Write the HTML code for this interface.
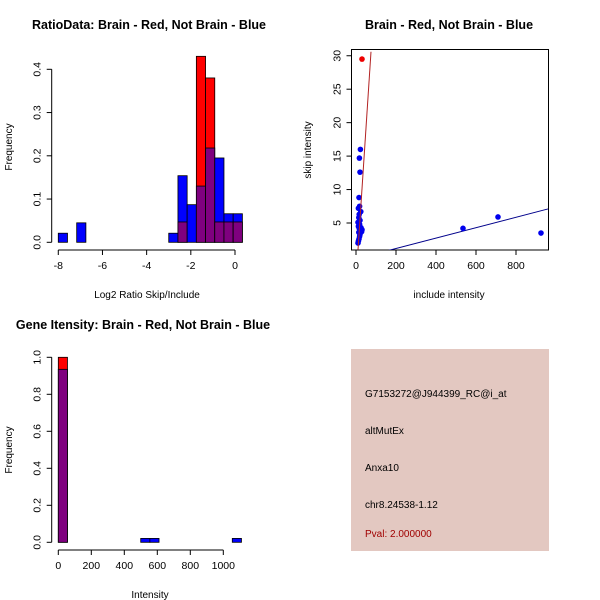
<!DOCTYPE html>
<html><head><meta charset="utf-8"><style>
body{margin:0;background:#fff}
svg{display:block;font-family:"Liberation Sans",sans-serif}
</style></head><body>
<svg id="s" width="600" height="600" xmlns="http://www.w3.org/2000/svg">
<rect width="600" height="600" fill="#fff"/>
<text x="149" y="29" font-size="12.5" font-weight="bold" text-anchor="middle">RatioData: Brain - Red, Not Brain - Blue</text>
<text x="449" y="29" font-size="12.5" font-weight="bold" text-anchor="middle">Brain - Red, Not Brain - Blue</text>
<text x="143" y="329" font-size="12.5" font-weight="bold" text-anchor="middle">Gene Itensity: Brain - Red, Not Brain - Blue</text>
<text x="147" y="298" font-size="10" text-anchor="middle">Log2 Ratio Skip/Include</text>
<text x="12" y="147" font-size="10" text-anchor="middle" transform="rotate(-90 12 147)">Frequency</text>
<text x="449" y="298" font-size="10" text-anchor="middle">include intensity</text>
<text x="311" y="150" font-size="10" text-anchor="middle" transform="rotate(-90 311 150)">skip intensity</text>
<text x="150" y="598" font-size="10" text-anchor="middle">Intensity</text>
<text x="12" y="450" font-size="10" text-anchor="middle" transform="rotate(-90 12 450)">Frequency</text>
<g>
<rect x="351" y="349" width="198" height="202" fill="#e3c8c1"/>
<text x="365" y="397" font-size="10">G7153272@J944399_RC@i_at</text>
<text x="365" y="434" font-size="10">altMutEx</text>
<text x="365" y="471" font-size="10">Anxa10</text>
<text x="365" y="508" font-size="10">chr8.24538-1.12</text>
<text x="365" y="537" font-size="10" fill="#a00000">Pval: 2.000000</text>
</g>
</svg>
<script>
// Ratio histogram data
const ratioStart = -8.0;
const ratioBinW = 0.4167;
const ratioBlue = [0.021,0,0.045,0,0,0,0,0,0,0,0,0,0.021,0.154,0.087,0.13,0.218,0.195,0.066,0.066];
const ratioRed  = [0,0,0,0,0,0,0,0,0,0,0,0,0,0.047,0,0.43,0.38,0.047,0.047,0.047];
const ratioXTicks = [-8,-6,-4,-2,0];
const ratioYTicks = [0,0.1,0.2,0.3,0.4];
// Intensity histogram data
const intBinW = 55.5;
const intBlue = [0.935,0,0,0,0,0,0,0,0,0.021,0.021,0,0,0,0,0,0,0,0,0.021];
const intRed  = [1.0,0,0,0,0,0,0,0,0,0,0,0,0,0,0,0,0,0,0,0];
const intXTicks = [0,200,400,600,800,1000];
const intYTicks = [0,0.2,0.4,0.6,0.8,1.0];
// Scatter data
const blueX = [10,12,15,18,20,14,22,16,12,25,18,10,20,28,14,16,24,12,30,18,15,20,17,22,535,710,925];
const blueY = [2.0,2.3,2.6,3.0,3.3,3.6,3.9,4.2,4.5,4.3,4.8,5.1,5.4,3.7,5.8,6.3,6.7,7.2,4.0,7.5,8.8,12.6,14.7,16.0,4.2,5.9,3.5];
const redX = [30];
const redY = [29.5];
const blueLine = [[150,0.8],[960,7.1]];
const redLine = [[10,1.0],[75,30.6]];
const scXTicks = [0,200,400,600,800];
const scYTicks = [5,10,15,20,25,30];

const S = document.getElementById('s');
const NS = 'http://www.w3.org/2000/svg';
function mk(tag, at, parent){const e=document.createElementNS(NS,tag);for(const k in at)e.setAttribute(k,at[k]);(parent||S).appendChild(e);return e;}

function hist(xs, ys, x0, binW, blue, red, xt, yt, yAxisX, xAxisY, name){
  const g = mk('g',{});
  
  
  for(let i=0;i<blue.length;i++){
    const a=x0+i*binW, b=a+binW, bl=blue[i], rd=red[i];
    const hi=Math.max(bl,rd), lo=Math.min(bl,rd);
    if(hi>0){
      const r=mk('rect',{x:xs(a),y:ys(hi),width:xs(b)-xs(a),height:ys(0)-ys(hi),fill:bl>=rd?'#0000ff':'#ff0000',stroke:'#000','stroke-width':0.8},g);
      
      
    }
    if(lo>0){
      const r=mk('rect',{x:xs(a),y:ys(lo),width:xs(b)-xs(a),height:ys(0)-ys(lo),fill:'#7f007f',stroke:'#000','stroke-width':0.8},g);
      
      
    }
  }
  axes(xs,ys,xt,yt,yAxisX,xAxisY,name);
}
function axes(xs,ys,xt,yt,yAxisX,xAxisY,name){
  const ax=mk('g',{stroke:'#000','stroke-width':1,fill:'none'});
  
  
  mk('line',{x1:xs(xt[0]),x2:xs(xt[xt.length-1]),y1:xAxisY,y2:xAxisY},ax);
  mk('line',{x1:yAxisX,x2:yAxisX,y1:ys(yt[0]),y2:ys(yt[yt.length-1])},ax);
  xt.forEach(v=>{
    mk('line',{x1:xs(v),x2:xs(v),y1:xAxisY,y2:xAxisY+5},ax);
    const t=mk('text',{x:xs(v),y:xAxisY+19,'font-size':10.5,'text-anchor':'middle'});
    t.textContent=v;
    
    
  });
  yt.forEach(v=>{
    mk('line',{x1:yAxisX,x2:yAxisX-5,y1:ys(v),y2:ys(v)},ax);
    const tx=yAxisX-11, ty=ys(v);
    const t=mk('text',{x:tx,y:ty,'font-size':10.5,'text-anchor':'middle',transform:`rotate(-90 ${tx} ${ty})`});
    t.textContent=v.toFixed(1);
    
    
  });
}
hist(v=>235+(v)*22.09, v=>242.3-v*432.5, ratioStart, ratioBinW, ratioBlue, ratioRed, ratioXTicks, ratioYTicks, 51.7, 250, 'ratio-hist');
hist(v=>58.3+v*0.165, v=>542.3-v*185, 0, intBinW, intBlue, intRed, intXTicks, intYTicks, 51.7, 550, 'intensity-hist');
// scatter
const sx=v=>356+v*0.2, sy=v=>223-(v-5)*6.69;
const box=mk('rect',{x:351.5,y:49.5,width:197,height:200.5,fill:'none',stroke:'#000'});


const defs=mk('defs',{});const cp=mk('clipPath',{id:'cp'},defs);mk('rect',{x:351.5,y:49.5,width:197,height:200.5},cp);
const pg=mk('g',{'clip-path':'url(#cp)'});


const bl=mk('line',{x1:sx(blueLine[0][0]),y1:sy(blueLine[0][1]),x2:sx(blueLine[1][0]),y2:sy(blueLine[1][1]),stroke:'#00008b','stroke-width':1},pg);


blueX.forEach((x,i)=>{
  const c=mk('circle',{cx:sx(x),cy:sy(blueY[i]),r:2.8,fill:'#0000ee'},pg);
  
  
});
redX.forEach((x,i)=>{
  const c=mk('circle',{cx:sx(x),cy:sy(redY[i]),r:2.8,fill:'#ee0000'},pg);
  
  
});
const rl=mk('line',{x1:sx(redLine[0][0]),y1:sy(redLine[0][1]),x2:sx(redLine[1][0]),y2:sy(redLine[1][1]),stroke:'#b22222','stroke-width':1},pg);


const sax=mk('g',{stroke:'#000'});


scXTicks.forEach(v=>{
  mk('line',{x1:sx(v),x2:sx(v),y1:250,y2:255},sax);
  const t=mk('text',{x:sx(v),y:269,'font-size':10.5,'text-anchor':'middle'});
  t.textContent=v;
  
  
});
scYTicks.forEach(v=>{
  mk('line',{x1:351.5,x2:346.5,y1:sy(v),y2:sy(v)},sax);
  const tx=340.5, ty=sy(v);
  const t=mk('text',{x:tx,y:ty,'font-size':10.5,'text-anchor':'middle',transform:`rotate(-90 ${tx} ${ty})`});
  t.textContent=v;
  
  
});
</script>
</body></html>
